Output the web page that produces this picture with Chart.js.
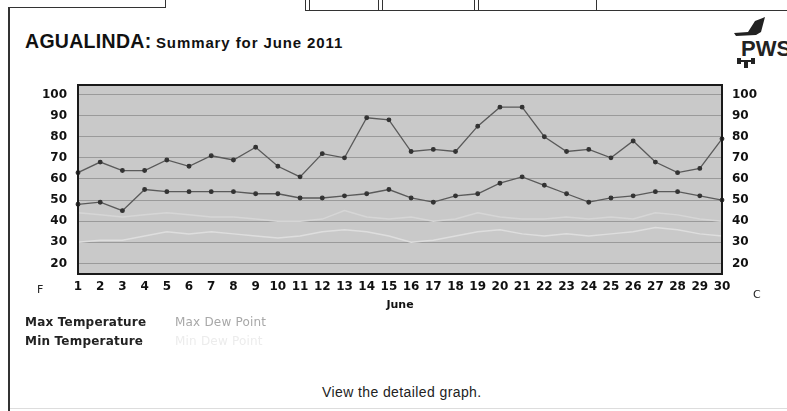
<!DOCTYPE html>
<html>
<head>
<meta charset="utf-8">
<script src="https://cdn.jsdelivr.net/npm/chart.js@4.4.0/dist/chart.umd.min.js"></script>
<style>
  html, body { margin: 0; padding: 0; background: #fff; }
  body { width: 787px; height: 411px; position: relative; overflow: hidden; font-family: "Liberation Sans", Arial, sans-serif; }
  .ln { position: absolute; background: #333; }
  #wrap { position: absolute; left: 0; top: 0; width: 787px; height: 320px; }
  .title { position: absolute; left: 25px; top: 30px; font-weight: bold; color: #111; white-space: nowrap; }
  .title .big { font-size: 19.5px; letter-spacing: 0.3px; }
  .title .small { font-size: 15px; letter-spacing: 0.9px; }
  .unit { position: absolute; font-family: "DejaVu Sans", sans-serif; font-size: 11px; color: #222; }
  .leg { position: absolute; font-family: "DejaVu Sans", sans-serif; font-size: 12px; white-space: nowrap; letter-spacing: 0.2px; }
  .link { position: absolute; left: 322px; top: 384px; font-size: 14px; letter-spacing: 0.4px; color: #222; }
  .pws { position: absolute; left: 741px; top: 36px; font-size: 22px; font-weight: bold; color: #222; }
</style>
</head>
<body>
<!-- page frame and tabs -->
<div class="ln" style="left:8px;top:7px;width:2px;height:404px;"></div>
<div class="ln" style="left:8px;top:7px;width:158px;height:1px;"></div>
<div class="ln" style="left:165px;top:0;width:1px;height:8px;"></div>
<div class="ln" style="left:305px;top:0;width:1px;height:10px;"></div>
<div class="ln" style="left:309px;top:0;width:1px;height:10px;"></div>
<div class="ln" style="left:378px;top:0;width:1px;height:10px;"></div>
<div class="ln" style="left:382px;top:0;width:1px;height:10px;"></div>
<div class="ln" style="left:474px;top:0;width:1px;height:10px;"></div>
<div class="ln" style="left:478px;top:0;width:1px;height:10px;"></div>
<div class="ln" style="left:596px;top:0;width:1px;height:10px;"></div>
<div class="ln" style="left:305px;top:10px;width:482px;height:1px;"></div>
<div class="ln" style="left:10px;top:408px;width:777px;height:1px;background:#ddd;"></div>

<div class="title"><span class="big">AGUALINDA:</span> <span class="small">Summary for June 2011</span></div>

<svg style="position:absolute;left:730px;top:12px" width="57" height="60">
  <path d="M4 21 L18 20 L25 9 L35 5 L31 20 L26 23 L6 24 Z" fill="#222"/>
  <rect x="7" y="46" width="4" height="6" fill="#222"/>
  <rect x="21" y="46" width="4" height="6" fill="#222"/>
  <rect x="10" y="48" width="12" height="2" fill="#222"/>
  <rect x="14" y="50" width="4" height="6" fill="#222"/>
</svg>
<div class="pws">PWS</div>

<div id="wrap"><canvas id="chart" width="787" height="320"></canvas></div>

<div class="unit" style="left:37px;top:283px;">F</div>
<div class="unit" style="left:753px;top:288px;">C</div>

<div class="leg" style="left:25px;top:315px;font-weight:bold;color:#222;">Max Temperature</div>
<div class="leg" style="left:175px;top:315px;color:#a8a8a8;">Max Dew Point</div>
<div class="leg" style="left:25px;top:334px;font-weight:bold;color:#222;">Min Temperature</div>
<div class="leg" style="left:175px;top:334px;color:#ececec;">Min Dew Point</div>

<div class="link">View the detailed graph.</div>

<script>
// Days of June 2011
const days = ['1','2','3','4','5','6','7','8','9','10','11','12','13','14','15',
              '16','17','18','19','20','21','22','23','24','25','26','27','28','29','30'];

const maxTemp = [63, 68, 64, 64, 69, 66, 71, 69, 75, 66, 61, 72, 70, 89, 88,
                 73, 74, 73, 85, 94, 94, 80, 73, 74, 70, 78, 68, 63, 65, 79];
const minTemp = [48, 49, 45, 55, 54, 54, 54, 54, 53, 53, 51, 51, 52, 53, 55,
                 51, 49, 52, 53, 58, 61, 57, 53, 49, 51, 52, 54, 54, 52, 50];
const maxDew  = [44, 43, 42, 43, 44, 43, 42, 42, 41, 40, 40, 41, 45, 42, 41,
                 42, 40, 41, 44, 42, 41, 41, 42, 41, 42, 41, 44, 43, 41, 40];
const minDew  = [30, 31, 31, 33, 35, 34, 35, 34, 33, 32, 33, 35, 36, 35, 33,
                 30, 31, 33, 35, 36, 34, 33, 34, 33, 34, 35, 37, 36, 34, 33];

const yTicks = [20, 30, 40, 50, 60, 70, 80, 90, 100];

// plot background + black frame
const plotFrame = {
  id: 'plotFrame',
  beforeDraw(chart) {
    const { ctx, chartArea: a } = chart;
    ctx.save();
    ctx.fillStyle = '#c9c9c9';
    ctx.fillRect(a.left, a.top, a.right - a.left, a.bottom - a.top);
    ctx.restore();
  },
  afterDraw(chart) {
    const { ctx, chartArea: a } = chart;
    ctx.save();
    ctx.strokeStyle = '#1a1a1a';
    ctx.lineWidth = 2;
    ctx.strokeRect(a.left, a.top, a.right - a.left, a.bottom - a.top);
    ctx.restore();
  }
};

const tickFont = { family: 'DejaVu Sans', size: 12, weight: 'bold' };

function yAxis(pos, width, pad) {
  return {
    type: 'linear',
    position: pos,
    min: 15,
    max: 104.5,
    afterBuildTicks: (axis) => { axis.ticks = yTicks.map(v => ({ value: v })); },
    afterFit: (axis) => { axis.width = width; },
    grid: { display: pos === 'left', color: '#9a9a9a', lineWidth: 1, drawTicks: false },
    border: { display: false },
    ticks: { font: tickFont, color: '#111', padding: pad }
  };
}

new Chart(document.getElementById('chart'), {
  type: 'line',
  data: {
    labels: days,
    datasets: [
      { label: 'Min Dew Point', data: minDew, borderColor: '#dedede', borderWidth: 1.5,
        pointRadius: 0, tension: 0 },
      { label: 'Max Dew Point', data: maxDew, borderColor: '#d6d6d6', borderWidth: 1.5,
        pointRadius: 0, tension: 0 },
      { label: 'Min Temperature', data: minTemp, borderColor: '#5a5a5a', borderWidth: 1.3,
        pointRadius: 1.8, pointBackgroundColor: '#333', pointBorderColor: '#333', tension: 0 },
      { label: 'Max Temperature', data: maxTemp, borderColor: '#5a5a5a', borderWidth: 1.3,
        pointRadius: 1.8, pointBackgroundColor: '#333', pointBorderColor: '#333', tension: 0 }
    ]
  },
  options: {
    responsive: false,
    animation: false,
    layout: { padding: { top: 85, left: 0, right: 0, bottom: 0 } },
    plugins: { legend: { display: false }, tooltip: { enabled: false } },
    scales: {
      x: {
        type: 'category',
        offset: false,
        afterFit: (axis) => { axis.height = 46; },
        grid: { display: false, drawTicks: false },
        border: { display: false },
        ticks: { font: tickFont, color: '#111', padding: 6, maxRotation: 0, autoSkip: false },
        title: { display: true, text: 'June', font: { family: 'DejaVu Sans', size: 11, weight: 'bold' },
                 color: '#111', padding: { top: 0, bottom: 8 } }
      },
      y: yAxis('left', 78, 11),
      y2: yAxis('right', 65, 10)
    }
  },
  plugins: [plotFrame]
});
</script>
</body>
</html>
